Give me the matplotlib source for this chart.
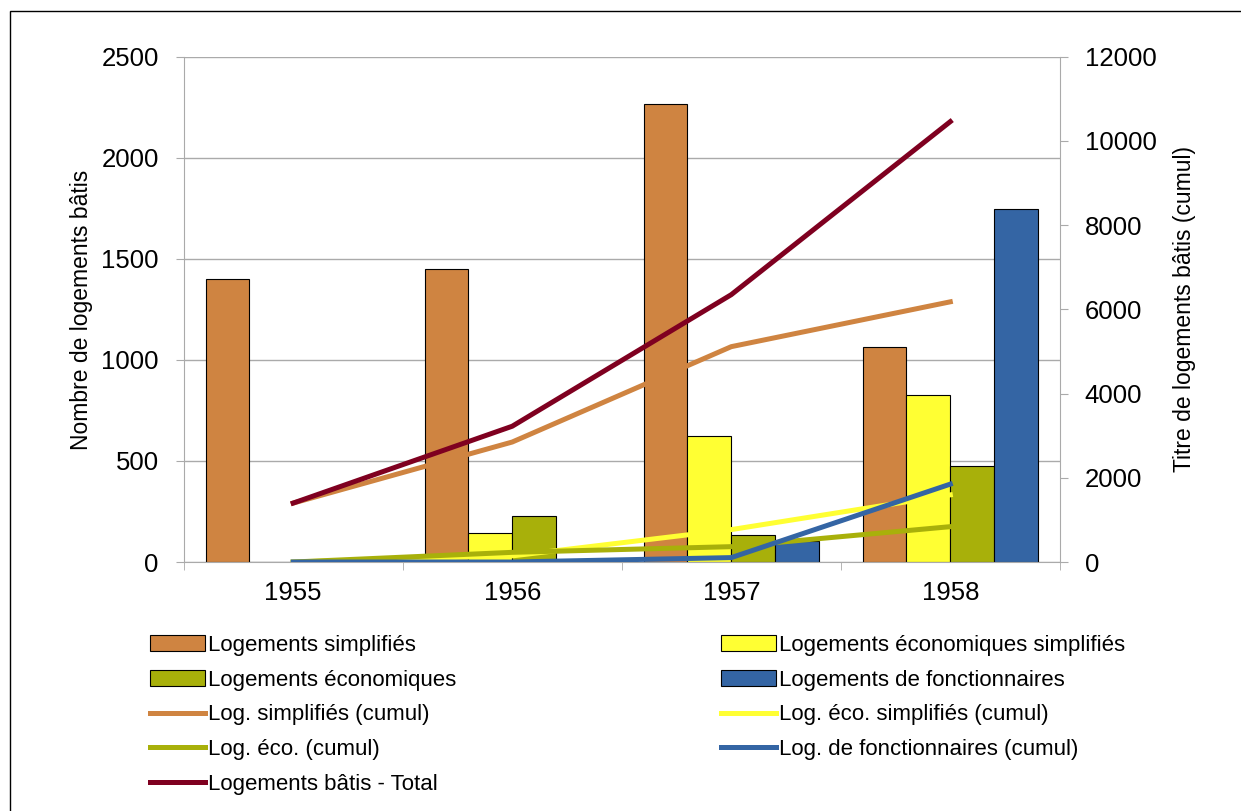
import matplotlib.pyplot as plt
import numpy as np
from matplotlib.patches import Rectangle

plt.rcParams['font.family'] = ['Liberation Sans', 'DejaVu Sans']

annees = ['1955', '1956', '1957', '1958']

# logements bâtis par an (axe gauche)
simplifies = [1400, 1450, 2265, 1065]
eco_simplifies = [0, 145, 625, 825]
economiques = [0, 230, 135, 475]
fonctionnaires = [0, 0, 105, 1745]

# cumuls (axe droit)
cumul_simplifies = [1400, 2850, 5115, 6180]
cumul_eco_simplifies = [0, 145, 770, 1595]
cumul_economiques = [0, 230, 365, 840]
cumul_fonctionnaires = [0, 0, 105, 1850]
total = [1400, 3225, 6350, 10460]

orange = '#CF8441'
jaune = '#FFFF33'
vert = '#A8B00A'
bleu = '#3465A4'
rouge = '#7F0020'
gris = '#AAAAAA'

fig = plt.figure(figsize=(12.41, 8.11), dpi=100)
ax = fig.add_axes([0.148, 0.307, 0.706, 0.623])

x = np.arange(len(annees))
w = 0.2
b1 = ax.bar(x - 1.5 * w, simplifies, w, color=orange, edgecolor='black', linewidth=0.8, zorder=2)
b2 = ax.bar(x - 0.5 * w, eco_simplifies, w, color=jaune, edgecolor='black', linewidth=0.8, zorder=2)
b3 = ax.bar(x + 0.5 * w, economiques, w, color=vert, edgecolor='black', linewidth=0.8, zorder=2)
b4 = ax.bar(x + 1.5 * w, fonctionnaires, w, color=bleu, edgecolor='black', linewidth=0.8, zorder=2)

ax.set_xlim(-0.5, 3.5)
ax.set_ylim(0, 2500)
ax.set_yticks(range(0, 2501, 500))
ax.yaxis.grid(True, color=gris, linewidth=1, zorder=0)
ax.set_axisbelow(True)
ax.set_xticks(x)
ax.set_xticklabels(annees)
ax.set_xticks(np.arange(-0.5, 4, 1), minor=True)
ax.tick_params(axis='x', which='major', length=0, pad=14, labelsize=18.5)
ax.tick_params(axis='x', which='minor', length=6, color=gris)
ax.tick_params(axis='y', length=6, color=gris, pad=12, labelsize=18.5)
for s in ['top', 'right']:
    ax.spines[s].set_visible(False)
for s in ['left', 'bottom']:
    ax.spines[s].set_color(gris)
ax.set_ylabel('Nombre de logements bâtis', fontsize=16.5, labelpad=6)

ax2 = ax.twinx()
lw = 3.6
l1, = ax2.plot(x, cumul_simplifies, color=orange, linewidth=lw)
l2, = ax2.plot(x, cumul_eco_simplifies, color=jaune, linewidth=lw)
l3, = ax2.plot(x, cumul_economiques, color=vert, linewidth=lw)
l4, = ax2.plot(x, cumul_fonctionnaires, color=bleu, linewidth=lw)
l5, = ax2.plot(x, total, color=rouge, linewidth=lw)
ax2.set_ylim(0, 12000)
ax2.set_yticks(range(0, 12001, 2000))
ax2.tick_params(axis='y', length=6, color=gris, pad=12, labelsize=18.5)
for s in ['top', 'left', 'bottom']:
    ax2.spines[s].set_visible(False)
ax2.spines['right'].set_color(gris)
ax2.set_ylabel('Titre de logements bâtis (cumul)', fontsize=16.5, labelpad=12)

leg_kw = dict(loc='upper left', frameon=False, fontsize=16, handlelength=2.5,
              handletextpad=0.12, labelspacing=0.62, borderaxespad=0)
fig.legend([b1, b3, l1, l3, l5],
           ['Logements simplifiés', 'Logements économiques', 'Log. simplifiés (cumul)',
            'Log. éco. (cumul)', 'Logements bâtis - Total'],
           bbox_to_anchor=(141 / 1241, 1 - 626 / 811), **leg_kw)
fig.legend([b2, b4, l2, l4],
           ['Logements économiques simplifiés', 'Logements de fonctionnaires',
            'Log. éco. simplifiés (cumul)', 'Log. de fonctionnaires (cumul)'],
           bbox_to_anchor=(712 / 1241, 1 - 626 / 811), **leg_kw)

# cadre du graphique
fig.patches.append(Rectangle((10 / 1241, -0.1), 1.2, 1 - 11 / 811 + 0.1,
                             transform=fig.transFigure, fill=False,
                             edgecolor='black', linewidth=1))

fig.savefig('out.png', dpi=100)
